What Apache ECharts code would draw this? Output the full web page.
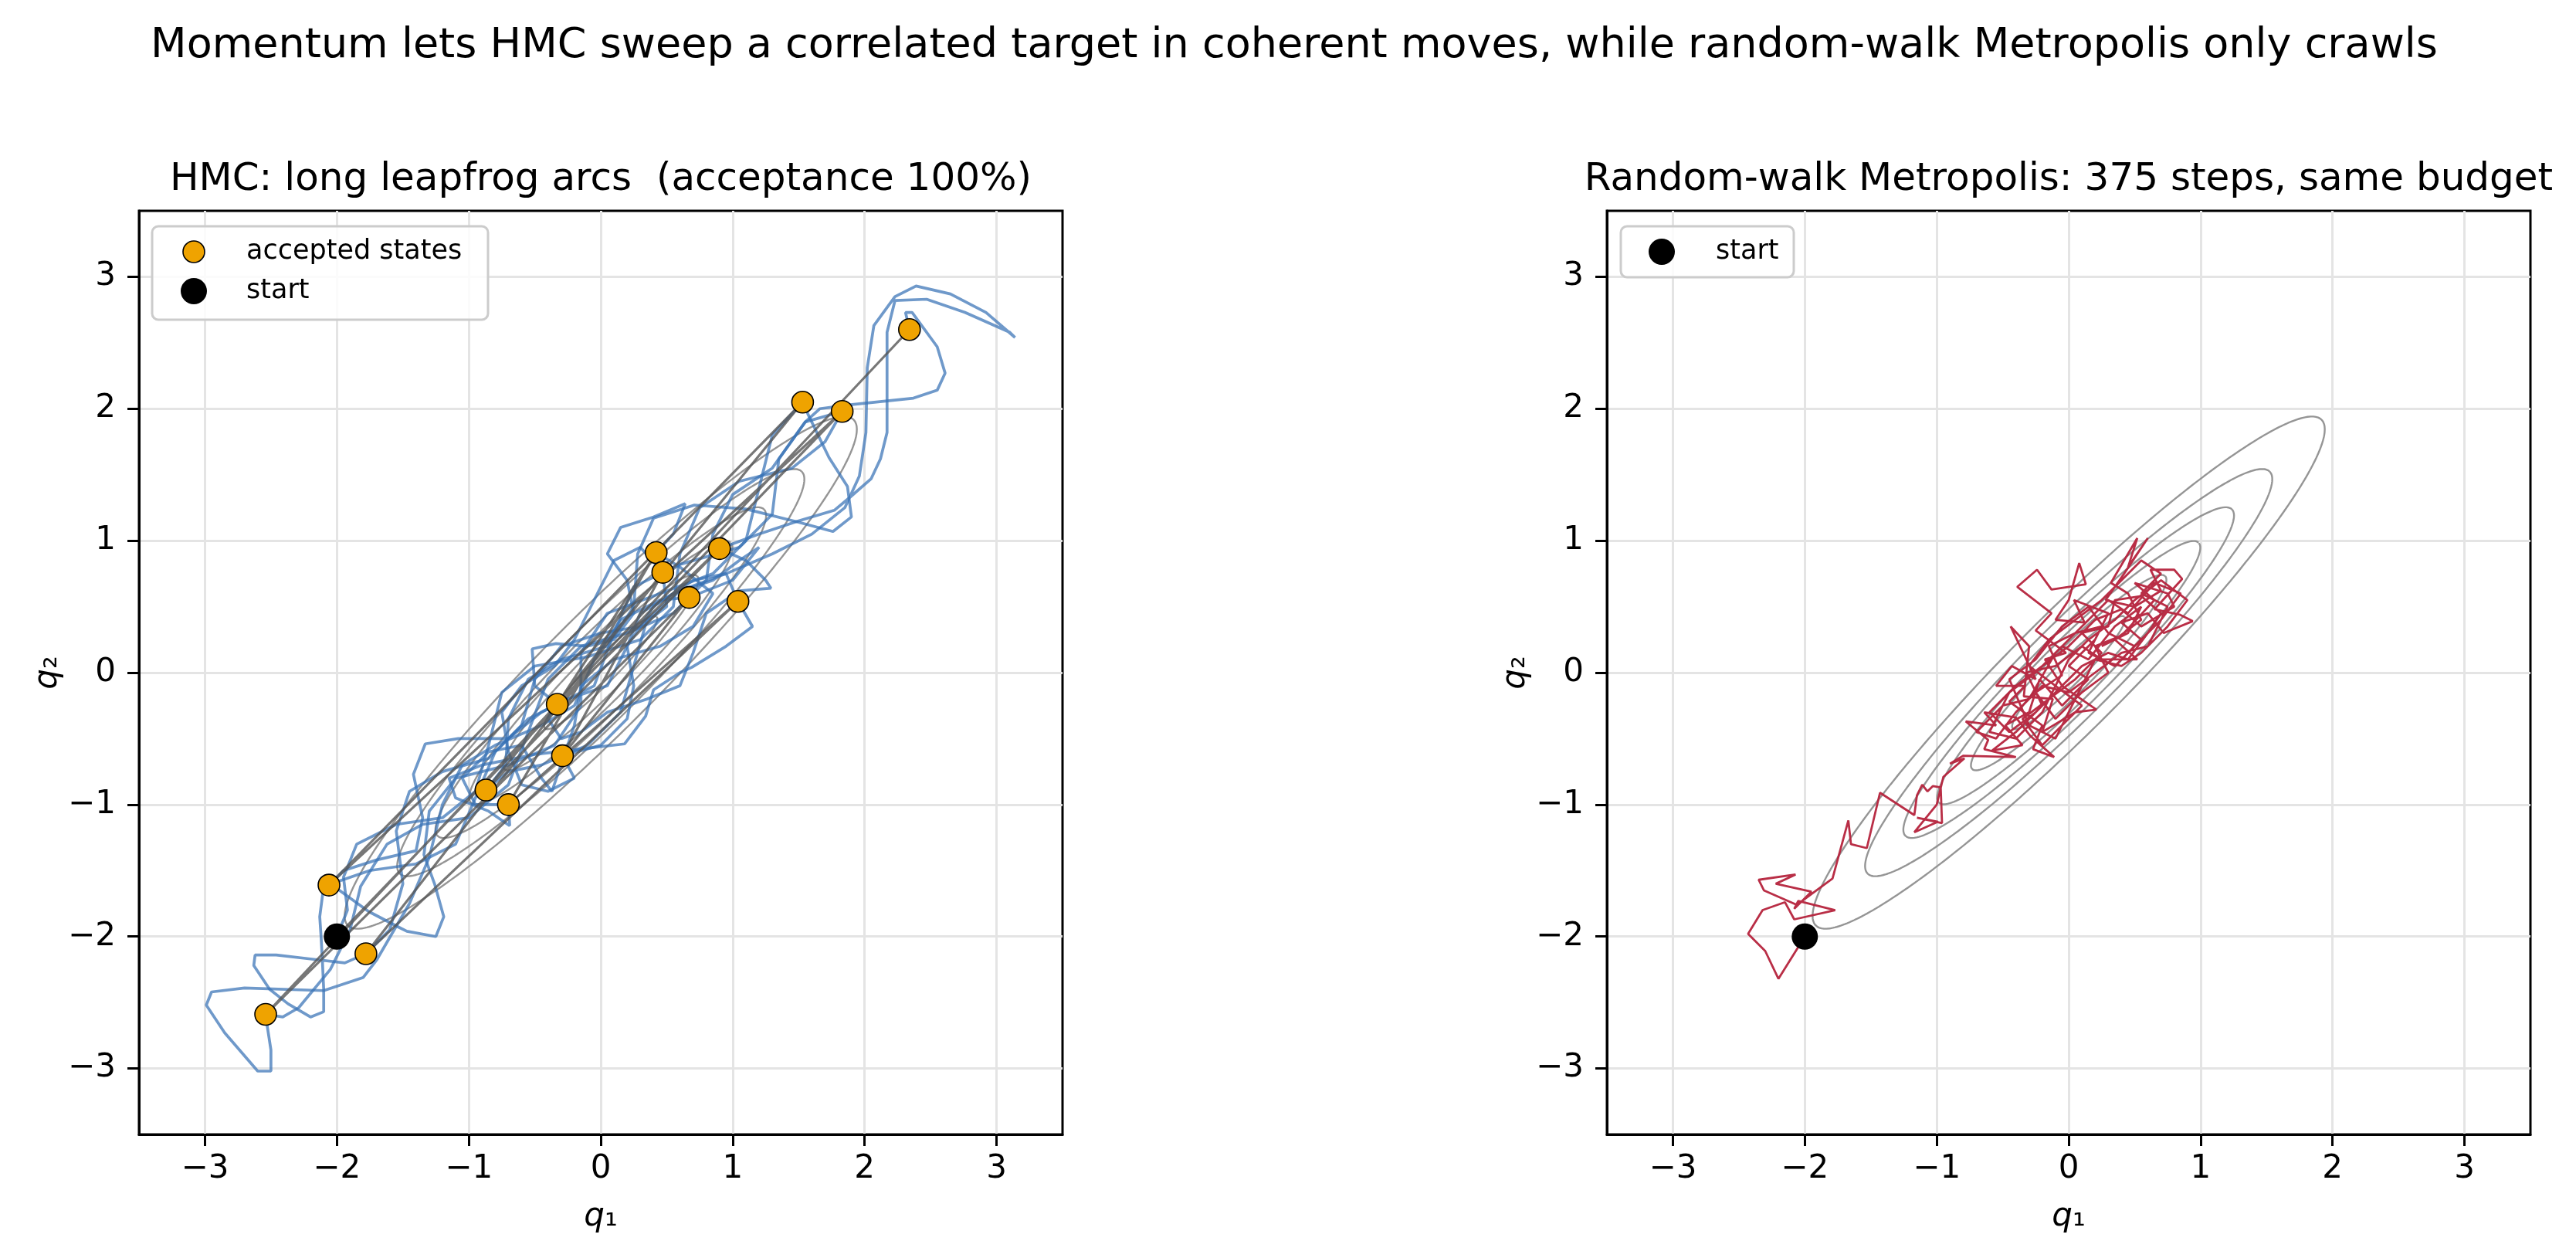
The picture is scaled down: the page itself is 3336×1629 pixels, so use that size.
<!DOCTYPE html>
<html><head><meta charset="utf-8">
<script src="https://cdn.jsdelivr.net/npm/echarts@6/dist/echarts.min.js"></script>
<style>html,body{margin:0;padding:0;background:#fff;}#c{width:3336px;height:1629px;}</style>
</head><body><div id="c"></div>
<script>
// ---------- data ----------
const tickValues = [-3, -2, -1, 0, 1, 2, 3];
const rho = 0.95;                                   // target correlation
const contourLevels = [0.152, 0.304, 0.456, 0.608, 0.76, 0.912]; // fraction of peak density
const startPoint = [[-2.00, -2.00]];
// HMC accepted states in chain order (first entry = start)
const hmcStates = [
  [-2.00,-2.00],[1.83,1.98],[-2.06,-1.61],[1.53,2.05],[-0.87,-0.89],[0.90,0.94],
  [-0.33,-0.24],[0.42,0.91],[-0.70,-1.00],[1.04,0.54],[-1.78,-2.13],[0.47,0.76],
  [-0.29,-0.63],[0.67,0.57],[-2.54,-2.59],[2.34,2.60]
];
const acceptedStates = hmcStates.slice(1);
// leapfrog trajectories
const traj01 = [[-2.00,-2.00],[-1.92,-1.80],[-1.95,-1.55],[-1.85,-1.30],[-1.55,-1.15],[-1.20,-1.10],[-0.95,-0.90],[-0.85,-0.55],[-0.75,-0.15],[-0.50,0.05],[-0.10,0.12],[0.30,0.25],[0.55,0.50],[0.60,0.90],[0.75,1.25],[1.05,1.45],[1.45,1.55],[1.70,1.75],[1.83,1.98]];
const traj02 = [[1.83,1.98],[1.55,1.90],[1.35,1.62],[1.30,1.20],[1.05,0.95],[0.60,0.82],[0.25,0.65],[0.10,0.30],[-0.05,-0.10],[-0.45,-0.30],[-0.70,-0.50],[-1.08,-0.50],[-1.33,-0.54],[-1.42,-0.77],[-1.35,-1.10],[-1.40,-1.35],[-1.70,-1.42],[-1.95,-1.50],[-2.06,-1.61]];
const traj03 = [[-2.06,-1.61],[-1.98,-1.65],[-1.76,-1.81],[-1.53,-1.93],[-1.47,-1.96],[-1.25,-2.00],[-1.19,-1.85],[-1.26,-1.60],[-1.34,-1.38],[-1.30,-1.05],[-1.10,-0.80],[-0.70,-0.70],[-0.35,-0.55],[-0.15,-0.25],[-0.15,0.15],[0.05,0.45],[0.45,0.60],[0.85,0.75],[1.10,1.00],[1.20,1.40],[1.30,1.80],[1.53,2.05]];
const traj04 = [[1.53,2.05],[1.57,1.96],[1.73,1.63],[1.87,1.41],[1.90,1.18],[1.76,1.07],[1.50,1.14],[1.10,1.24],[0.71,1.27],[0.40,1.17],[0.28,0.90],[0.25,0.50],[0.05,0.20],[-0.30,0.10],[-0.55,-0.05],[-0.70,-0.35],[-0.72,-0.70],[-0.87,-0.89]];
const traj05 = [[-0.87,-0.89],[-0.70,-0.75],[-0.45,-0.70],[-0.10,-0.55],[0.15,-0.30],[0.25,0.05],[0.35,0.40],[0.60,0.62],[0.95,0.75],[1.30,0.90],[1.60,1.05],[1.85,1.25],[1.96,1.49],[2.01,1.82],[2.02,2.31],[2.07,2.63],[2.23,2.85],[2.39,2.93],[2.65,2.87],[2.92,2.73],[3.14,2.54],[3.10,2.58],[2.76,2.73],[2.47,2.83],[2.23,2.82],[2.17,2.58],[2.17,1.82],[2.12,1.62],[2.05,1.47],[1.89,1.33],[1.77,1.23],[1.50,1.15],[1.20,1.05],[0.90,0.94]];
const traj06 = [[0.90,0.94],[1.10,0.85],[1.25,0.70],[1.29,0.64],[1.05,0.62],[0.80,0.45],[0.70,0.15],[0.60,-0.10],[0.35,-0.20],[0.05,-0.30],[-0.15,-0.45],[-0.30,-0.50],[-0.40,-0.35],[-0.33,-0.24]];
const traj07 = [[-0.33,-0.24],[-0.50,-0.10],[-0.52,0.18],[-0.34,0.22],[-0.10,0.20],[0.10,0.25],[0.25,0.45],[0.20,0.70],[0.05,0.90],[0.15,1.10],[0.40,1.18],[0.64,1.28],[0.55,1.05],[0.42,0.91]];
const traj08 = [[0.42,0.91],[0.60,0.80],[0.85,0.60],[0.70,0.35],[0.45,0.20],[0.10,0.10],[-0.15,-0.10],[-0.20,-0.40],[-0.37,-0.90],[-0.45,-0.80],[-0.60,-0.55],[-0.85,-0.60],[-1.05,-0.80],[-0.95,-1.00],[-0.70,-1.00]];
const traj09 = [[-0.70,-1.00],[-0.69,-1.16],[-0.85,-1.05],[-1.10,-0.95],[-1.15,-0.80],[-0.90,-0.70],[-0.50,-0.62],[-0.16,-0.58],[0.18,-0.54],[0.34,-0.33],[0.40,-0.13],[0.60,0.00],[0.69,0.04],[0.95,0.20],[1.15,0.35],[1.04,0.54]];
const traj10 = [[1.04,0.54],[0.95,0.75],[0.70,0.70],[0.40,0.50],[0.20,0.20],[0.05,-0.10],[-0.25,-0.20],[-0.55,-0.35],[-0.80,-0.60],[-0.95,-0.95],[-1.10,-1.30],[-1.40,-1.45],[-1.75,-1.50],[-2.10,-1.62],[-2.13,-1.85],[-2.12,-2.00],[-2.11,-2.18],[-2.10,-2.40],[-2.10,-2.57],[-2.20,-2.61],[-2.37,-2.51],[-2.51,-2.40],[-2.63,-2.22],[-2.62,-2.14],[-2.46,-2.14],[-2.20,-2.17],[-1.94,-2.20],[-1.78,-2.13]];
const traj11 = [[-1.78,-2.13],[-1.60,-1.95],[-1.50,-1.60],[-1.55,-1.20],[-1.45,-0.90],[-1.20,-0.75],[-0.85,-0.65],[-0.60,-0.40],[-0.50,-0.05],[-0.30,0.20],[0.00,0.30],[0.30,0.35],[0.50,0.50],[0.47,0.76]];
const traj12 = [[0.47,0.76],[0.30,0.95],[0.10,0.85],[-0.05,0.55],[-0.20,0.25],[-0.35,0.05],[-0.60,-0.10],[-0.75,-0.30],[-0.70,-0.60],[-0.60,-0.85],[-0.40,-0.90],[-0.20,-0.80],[-0.29,-0.63]];
const traj13 = [[-0.29,-0.63],[0.00,-0.55],[0.20,-0.35],[0.25,-0.10],[0.20,0.20],[0.30,0.45],[0.55,0.60],[0.85,0.70],[1.05,0.85],[1.20,0.95],[1.00,0.70],[0.67,0.57]];
const traj14 = [[0.67,0.57],[0.45,0.55],[0.15,0.40],[-0.05,0.10],[-0.20,-0.25],[-0.45,-0.40],[-0.80,-0.55],[-1.05,-0.70],[-1.20,-1.00],[-1.30,-1.40],[-1.45,-1.75],[-1.70,-2.18],[-1.80,-2.31],[-2.10,-2.41],[-2.70,-2.39],[-2.95,-2.42],[-2.99,-2.52],[-2.85,-2.73],[-2.60,-3.02],[-2.50,-3.02],[-2.50,-2.86],[-2.54,-2.60]];
const traj15 = [[-2.54,-2.59],[-2.41,-2.61],[-2.29,-2.54],[-2.05,-2.25],[-1.90,-1.95],[-1.82,-1.62],[-1.62,-1.30],[-1.35,-1.15],[-1.00,-1.10],[-0.70,-0.85],[-0.55,-0.45],[-0.40,-0.05],[-0.15,0.20],[0.20,0.30],[0.55,0.45],[0.80,0.70],[0.85,1.05],[1.00,1.35],[1.30,1.55],[1.55,1.90],[1.66,2.00],[1.89,2.03],[2.37,2.08],[2.55,2.14],[2.61,2.27],[2.55,2.47],[2.36,2.73],[2.31,2.73],[2.34,2.60]];
const hmcTrajectories = [traj01,traj02,traj03,traj04,traj05,traj06,traj07,traj08,traj09,traj10,traj11,traj12,traj13,traj14,traj15];
// random-walk Metropolis path
const rwPath = [
  [-2.00,-2.00],[-2.20,-2.32],[-2.30,-2.11],[-2.43,-1.98],[-2.32,-1.80],[-2.15,-1.74],[-2.08,-1.87],[-1.77,-1.80],
  [-2.05,-1.73],[-2.08,-1.79],[-1.95,-1.66],[-2.22,-1.60],[-2.07,-1.53],[-2.35,-1.57],[-2.31,-1.65],[-2.06,-1.76],
  [-1.79,-1.56],[-1.67,-1.12],[-1.65,-1.30],[-1.53,-1.33],[-1.43,-0.91],[-1.17,-1.08],[-1.15,-0.93],[-1.11,-0.85],
  [-1.07,-0.90],[-1.03,-0.86],[-0.97,-0.87],[-0.96,-1.14],[-1.15,-1.10],[-0.99,-1.13],[-1.17,-1.21],[-1.00,-1.00],
  [-0.95,-0.79],[-0.79,-0.65],[-0.90,-0.69],[-0.80,-0.63],[-0.40,-0.64],[-0.64,-0.58],[-0.61,-0.51],[-0.78,-0.37],
  [-0.55,-0.40],[-0.64,-0.30],[-0.40,-0.34],[-0.29,-0.48],[-0.11,-0.64],[-0.27,-0.58],[-0.20,-0.40],[-0.45,-0.22],
  [-0.33,-0.10],[-0.55,-0.10],[-0.43,0.05],[-0.25,-0.05],[-0.44,0.35],[-0.30,0.20],[-0.34,-0.18],[-0.12,-0.20],
  [-0.20,-0.45],[0.05,-0.30],[0.21,-0.28],[-0.05,-0.10],[-0.18,0.10],[-0.02,0.15],[-0.25,0.32],[-0.13,0.45],
  [-0.39,0.65],[-0.24,0.78],[-0.13,0.63],[0.13,0.67],[0.08,0.83],[0.00,0.55],[-0.10,0.40],[0.12,0.38],
  [0.04,0.55],[0.30,0.45],[0.20,0.25],[0.00,0.05],[0.15,-0.05],[-0.05,-0.25],[-0.22,-0.05],[-0.30,-0.30],
  [-0.48,-0.40],[-0.35,-0.55],[-0.58,-0.59],[-0.40,-0.45],[-0.20,-0.25],[-0.32,0.00],[-0.10,0.05],[0.10,0.20],
  [0.25,0.10],[0.52,0.10],[0.35,0.25],[0.55,0.40],[0.45,0.60],[0.32,0.68],[0.52,1.02],[0.45,0.80],
  [0.60,1.02],[0.42,0.75],[0.28,0.55],[0.50,0.50],[0.70,0.62],[0.62,0.78],[0.80,0.78],[0.86,0.71],
  [0.65,0.48],[0.84,0.44],[0.94,0.39],[0.72,0.30],[0.60,0.45],[0.40,0.38],[0.55,0.25],[0.35,0.05],
  [0.15,0.15],[0.25,0.35],[0.05,0.30],[-0.15,0.20],[-0.05,-0.02],[-0.25,-0.15],[-0.10,-0.35],[0.10,-0.15],
  [0.30,0.00],[0.20,0.20],[0.40,0.28],[0.65,0.55],[0.50,0.68],[0.75,0.60],[0.80,0.50],[0.55,0.35],
  [0.40,0.48],[0.20,0.40],[0.00,0.20],[-0.20,0.05],[-0.40,-0.10],[-0.60,-0.30],[-0.45,-0.45],[-0.25,-0.30],
  [-0.05,-0.10],[0.10,0.05],[0.30,0.15],[0.45,0.10],[0.60,0.30],[0.70,0.45],[0.55,0.58],[0.35,0.55],
  [0.30,0.35],[0.10,0.30],[0.25,0.15],[0.05,-0.05],[-0.15,-0.20],[-0.35,-0.35],[-0.20,-0.55],[-0.05,-0.40],
  [0.10,-0.25],[-0.10,-0.10],[-0.30,0.05],[-0.15,0.25],[0.05,0.40],[0.25,0.55],[0.40,0.70],[0.55,0.85],
  [0.70,0.75],[0.55,0.60],[0.75,0.50],[0.60,0.20],[0.40,0.15],[0.20,0.00],[0.00,-0.15],[-0.20,-0.10],
  [-0.40,-0.30],[-0.55,-0.50],[-0.70,-0.45],[-0.50,-0.25],[-0.30,-0.20],[-0.10,0.15],[0.10,0.35],[0.30,0.55],
  [0.45,0.45],[0.65,0.68],[0.85,0.60],[0.70,0.40],[0.50,0.20],[0.30,0.30],[0.15,0.50],[-0.05,0.35],
  [-0.25,0.10],[-0.45,-0.05],[-0.30,-0.40],[-0.10,-0.50],[0.05,-0.20],[0.20,0.10],[0.40,0.05],[0.55,0.15],
  [0.75,0.35],[0.90,0.55],[0.70,0.70],[0.50,0.55],[0.35,0.40],[0.15,0.25],[0.00,0.10],[-0.20,-0.30],
  [-0.40,-0.50],[-0.60,-0.45],[-0.45,-0.15],[-0.25,0.00],[-0.05,0.20],[0.15,0.10],[0.35,0.35],[0.55,0.50],
  [0.45,0.30],[0.25,0.20]
];
const titles = {
  sup: 'Momentum lets HMC sweep a correlated target in coherent moves, while random-walk Metropolis only crawls',
  left: 'HMC: long leapfrog arcs  (acceptance 100%)',
  right: 'Random-walk Metropolis: 375 steps, same budget'
};

// ---------- contour geometry of the target N(0, [[1,rho],[rho,1]]) ----------
function contourPath(f) {
  const r = Math.sqrt(-2 * Math.log(f));
  const a = r * Math.sqrt(1 + rho), b = r * Math.sqrt(1 - rho);
  const pts = [];
  for (let k = 0; k <= 360; k++) {
    const t = k / 360 * 2 * Math.PI;
    const u = a * Math.cos(t), v = b * Math.sin(t);
    pts.push([(u - v) / Math.SQRT2, (u + v) / Math.SQRT2]);
  }
  return pts;
}

// ---------- styles ----------
const FONT = 'DejaVu Sans';
const C_BLUE = '#3872b5', C_GRAY = '#555555', C_CONT = '#8a8a8a', C_RED = '#b5233c', C_ORANGE = '#efa300';
const minus = v => (v < 0 ? '\u2212' : '') + Math.abs(v);

function xAxisFor(gi) {
  return {
    gridIndex: gi, type: 'value', min: -3.5, max: 3.5,
    axisLine: {show: true, onZero: false, lineStyle: {color: '#000', width: 3}},
    axisTick: {show: true, length: 15, lineStyle: {color: '#000', width: 3}, customValues: tickValues},
    axisLabel: {customValues: tickValues, fontSize: 42, color: '#000', fontFamily: FONT, margin: 24, formatter: minus},
    splitLine: {show: true, lineStyle: {color: '#e4e4e4', width: 3}}
  };
}
function yAxisFor(gi) {
  return {
    gridIndex: gi, type: 'value', min: -3.5, max: 3.5,
    axisLine: {show: true, onZero: false, lineStyle: {color: '#000', width: 3}},
    axisTick: {show: true, length: 15, lineStyle: {color: '#000', width: 3}, customValues: tickValues},
    axisLabel: {customValues: tickValues, fontSize: 42, color: '#000', fontFamily: FONT, margin: 30, formatter: minus},
    splitLine: {show: true, lineStyle: {color: '#e4e4e4', width: 3}}
  };
}
function lineSeries(data, gi, color, width, opacity, z) {
  return {
    type: 'line', xAxisIndex: gi, yAxisIndex: gi, data: data, symbol: 'none', showSymbol: false,
    smooth: false, silent: true, animation: false, z: z,
    lineStyle: {color: color, width: width, opacity: opacity}, emphasis: {disabled: true}
  };
}

const series = [];
contourLevels.forEach(f => {
  series.push(lineSeries(contourPath(f), 0, C_CONT, 2.4, 0.9, 1));
  series.push(lineSeries(contourPath(f), 1, C_CONT, 2.4, 0.9, 1));
});
hmcTrajectories.forEach(t => series.push(lineSeries(t, 0, C_BLUE, 3.7, 0.72, 2)));
series.push(lineSeries(hmcStates, 0, C_GRAY, 3.2, 0.8, 3));
series.push(lineSeries(rwPath, 1, C_RED, 2.8, 0.95, 2));
series.push({
  type: 'scatter', xAxisIndex: 0, yAxisIndex: 0, data: acceptedStates, symbol: 'circle', symbolSize: 28,
  itemStyle: {color: C_ORANGE, borderColor: '#000', borderWidth: 1.6, opacity: 1}, z: 5, silent: true, animation: false
});
[0, 1].forEach(gi => series.push({
  type: 'scatter', xAxisIndex: gi, yAxisIndex: gi, data: startPoint, symbol: 'circle', symbolSize: 34,
  itemStyle: {color: '#000', opacity: 1}, z: 6, silent: true, animation: false
}));

function txt(x, y, text, size, extra) {
  return Object.assign({type: 'text', x: x, y: y, z: 100,
    style: {text: text, fontSize: size, fontFamily: FONT, fill: '#000', textAlign: 'center', textVerticalAlign: 'middle'}}, extra || {});
}
const qRich = {q: {fontStyle: 'italic', fontSize: 42, fontFamily: FONT}, s: {fontSize: 42, fontFamily: FONT}};
function qLabel(x, y, idx, rot) {
  return {type: 'text', x: x, y: y, rotation: rot || 0, z: 100,
    style: {text: '{q|q}{s|' + (idx === 1 ? '\u2081' : '\u2082') + '}', rich: qRich, fill: '#000',
      textAlign: 'center', textVerticalAlign: 'middle', fontSize: 42, fontFamily: FONT}};
}

const graphic = [
  txt(1676, 60, titles.sup, 54),
  txt(778, 233, titles.left, 50),
  txt(2679, 233, titles.right, 50),
  qLabel(778, 1576, 1), qLabel(2679, 1576, 1),
  qLabel(62, 871, 2, Math.PI / 2), qLabel(1963, 871, 2, Math.PI / 2),
  // legend, left panel
  {type: 'rect', z: 100, shape: {x: 197, y: 293, width: 435, height: 121, r: 8},
    style: {fill: 'rgba(255,255,255,0.85)', stroke: '#cccccc', lineWidth: 3}},
  {type: 'circle', z: 101, shape: {cx: 251, cy: 326, r: 14}, style: {fill: C_ORANGE, stroke: '#000', lineWidth: 1.6}},
  {type: 'circle', z: 101, shape: {cx: 251, cy: 377, r: 17}, style: {fill: '#000'}},
  txt(319, 326, 'accepted states', 35, {z: 101}),
  txt(319, 377, 'start', 35, {z: 101}),
  // legend, right panel
  {type: 'rect', z: 100, shape: {x: 2099, y: 293, width: 224, height: 66, r: 8},
    style: {fill: 'rgba(255,255,255,0.85)', stroke: '#cccccc', lineWidth: 3}},
  {type: 'circle', z: 101, shape: {cx: 2152, cy: 326, r: 17}, style: {fill: '#000'}},
  txt(2222, 326, 'start', 35, {z: 101})
];
graphic.forEach(g => { if (g.type === 'text' && (g.style.text === 'accepted states' || g.style.text === 'start')) g.style.textAlign = 'left'; });

const chart = echarts.init(document.getElementById('c'), null, {renderer: 'canvas'});
chart.setOption({
  backgroundColor: '#ffffff',
  animation: false,
  grid: [
    {left: 180, top: 273, width: 1196, height: 1196, show: true, borderColor: '#000', borderWidth: 3, containLabel: false},
    {left: 2081, top: 273, width: 1196, height: 1196, show: true, borderColor: '#000', borderWidth: 3, containLabel: false}
  ],
  xAxis: [xAxisFor(0), xAxisFor(1)],
  yAxis: [yAxisFor(0), yAxisFor(1)],
  series: series,
  graphic: graphic
});
</script></body></html>
